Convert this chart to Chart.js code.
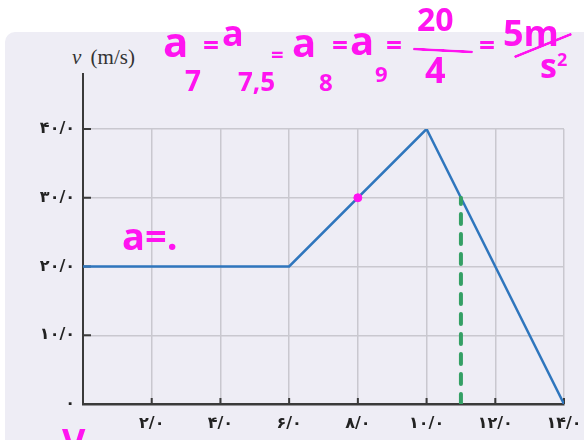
<!DOCTYPE html>
<html>
<head>
<meta charset="utf-8">
<script src="https://cdn.jsdelivr.net/npm/chart.js@4.4.0/dist/chart.umd.min.js"></script>
<style>
    body { margin: 0; background: #ffffff; width: 584px; height: 440px; overflow: hidden; position: relative; }
    .panel { position: absolute; left: 5px; top: 32px; width: 620px; height: 440px; background: #eeedf5; border-radius: 10px; }
    .chart-box { position: absolute; left: 0; top: 0; width: 584px; height: 440px; }
    .axis-title { position: absolute; left: 72px; top: 45px; font-family: "Liberation Serif", "DejaVu Serif", serif; font-size: 21px; color: #333; white-space: nowrap; }
    .axis-title i { margin-right: 4px; }
    .ink { position: absolute; color: #ff14f0; font-family: "Open Sans", sans-serif; font-weight: 700; line-height: 1; white-space: nowrap; }
    .bar { position: absolute; height: 0; border-top: 3px solid #ff14f0; border-radius: 2px; }
</style>
</head>
<body>
<div class="panel"></div>
<div class="axis-title"><i>v</i> (m/s)</div>
<div class="chart-box"><canvas id="velocityChart" width="584" height="440"></canvas></div>

<!-- handwritten notes on top of the picture -->
<div class="ink" style="left:163px; top:20px; font-size:42px;">a</div>
<div class="ink" style="left:203px; top:30px; font-size:28px;">=</div>
<div class="ink" style="left:222px; top:15px; font-size:36px;">a</div>
<div class="ink" style="left:185px; top:66px; font-size:28px;">7</div>
<div class="ink" style="left:238px; top:68px; font-size:26px;">7,5</div>
<div class="ink" style="left:271px; top:42px; font-size:22px;">=</div>
<div class="ink" style="left:292px; top:22px; font-size:40px;">a</div>
<div class="ink" style="left:319px; top:70px; font-size:24px;">8</div>
<div class="ink" style="left:332px; top:30px; font-size:28px;">=</div>
<div class="ink" style="left:350px; top:20px; font-size:40px;">a</div>
<div class="ink" style="left:375px; top:62px; font-size:22px;">9</div>
<div class="ink" style="left:386px; top:30px; font-size:28px;">=</div>
<div class="ink" style="left:417px; top:3px; font-size:32px;">20</div>
<div class="bar" style="left:413px; top:49px; width:60px; transform: rotate(3deg);"></div>
<div class="ink" style="left:425px; top:52px; font-size:36px;">4</div>
<div class="ink" style="left:479px; top:30px; font-size:28px;">=</div>
<div class="ink" style="left:503px; top:15px; font-size:36px;">5m</div>
<div class="bar" style="left:512px; top:44px; width:62px; transform: rotate(-22deg);"></div>
<div class="ink" style="left:540px; top:48px; font-size:34px;">s<sup style="font-size:18px;">2</sup></div>
<div class="ink" style="left:122px; top:216px; font-size:38px;">a=.</div>
<div class="ink" style="left:62px; top:424px; font-size:36px;">V</div>

<script>
// Velocity - time graph data
const timeValues = [0, 6, 10, 14];
const speedValues = [20, 20, 40, 0];

// marked point (pink dot)
const markTime = [8];
const markSpeed = [30];

// dashed green guide
const guideTime = [11, 11];
const guideSpeed = [0, 30];

// tick labels (Persian digits)
const xTickLabels = ['', '۲/۰', '۴/۰', '۶/۰', '۸/۰', '۱۰/۰', '۱۲/۰', '۱۴/۰'];
const yTickLabels = ['۰', '۱۰/۰', '۲۰/۰', '۳۰/۰', '۴۰/۰'];

const toPoints = (xs, ys) => xs.map((x, i) => ({ x: x, y: ys[i] }));

// draws the y axis above the grid and the short inner tick marks
const axisExtras = {
    id: 'axisExtras',
    beforeDatasetsDraw(chart) {
        const { ctx, chartArea, scales } = chart;
        ctx.save();
        ctx.strokeStyle = '#3a3a3a';
        ctx.lineWidth = 2;
        ctx.beginPath();
        ctx.moveTo(chartArea.left, chartArea.top);
        ctx.lineTo(chartArea.left, chartArea.top - 56);
        scales.y.ticks.forEach(t => {
            if (t.value > 0) {
                const py = scales.y.getPixelForValue(t.value);
                ctx.moveTo(chartArea.left, py);
                ctx.lineTo(chartArea.left + 8, py);
            }
        });
        scales.x.ticks.forEach(t => {
            if (t.value > 0) {
                const px = scales.x.getPixelForValue(t.value);
                ctx.moveTo(px, chartArea.bottom);
                ctx.lineTo(px, chartArea.bottom - 6);
            }
        });
        ctx.stroke();
        ctx.restore();
    }
};

document.addEventListener('DOMContentLoaded', () => {
    const ctx = document.getElementById('velocityChart').getContext('2d');
    new Chart(ctx, {
        type: 'line',
        data: {
            datasets: [{
                label: 'v',
                data: toPoints(timeValues, speedValues),
                borderColor: '#2f76bd',
                borderWidth: 2.5,
                pointRadius: 0,
                fill: false,
                order: 2
            }, {
                label: 'guide',
                data: toPoints(guideTime, guideSpeed),
                borderColor: '#34a065',
                borderWidth: 4,
                borderDash: [10, 10],
                borderCapStyle: 'round',
                pointRadius: 0,
                fill: false,
                order: 1
            }, {
                label: 'mark',
                type: 'scatter',
                data: toPoints(markTime, markSpeed),
                backgroundColor: '#ff14f0',
                borderColor: '#ff14f0',
                pointRadius: 4,
                order: 0
            }]
        },
        options: {
            responsive: false,
            animation: false,
            layout: {
                padding: { top: 129, right: 20, left: 0, bottom: 0 }
            },
            plugins: {
                legend: { display: false },
                tooltip: { enabled: false }
            },
            scales: {
                x: {
                    type: 'linear',
                    min: 0,
                    max: 14,
                    afterFit: (scale) => {
                        scale.height = 36;
                        scale.paddingLeft = 0;
                        scale.paddingRight = 0;
                    },
                    grid: {
                        drawTicks: false,
                        color: (c) => c.tick && c.tick.value === 0 ? 'rgba(0,0,0,0)' : '#c9c8cf',
                        lineWidth: 1.5
                    },
                    border: { color: '#3a3a3a', width: 2.5 },
                    ticks: {
                        stepSize: 2,
                        padding: 10,
                        color: '#222',
                        font: { family: 'DejaVu Sans', size: 16, weight: 'bold' },
                        callback: (value, index) => xTickLabels[index]
                    }
                },
                y: {
                    min: 0,
                    max: 40,
                    afterFit: (scale) => {
                        scale.width = 83;
                        scale.paddingTop = 0;
                        scale.paddingBottom = 0;
                    },
                    grid: {
                        drawTicks: false,
                        color: (c) => c.tick && c.tick.value === 0 ? 'rgba(0,0,0,0)' : '#c9c8cf',
                        lineWidth: 1.5
                    },
                    border: { color: '#3a3a3a', width: 2 },
                    ticks: {
                        stepSize: 10,
                        padding: 8,
                        color: '#222',
                        font: { family: 'DejaVu Sans', size: 16, weight: 'bold' },
                        callback: (value, index) => yTickLabels[index]
                    }
                }
            }
        },
        plugins: [axisExtras]
    });
});
</script>
</body>
</html>
